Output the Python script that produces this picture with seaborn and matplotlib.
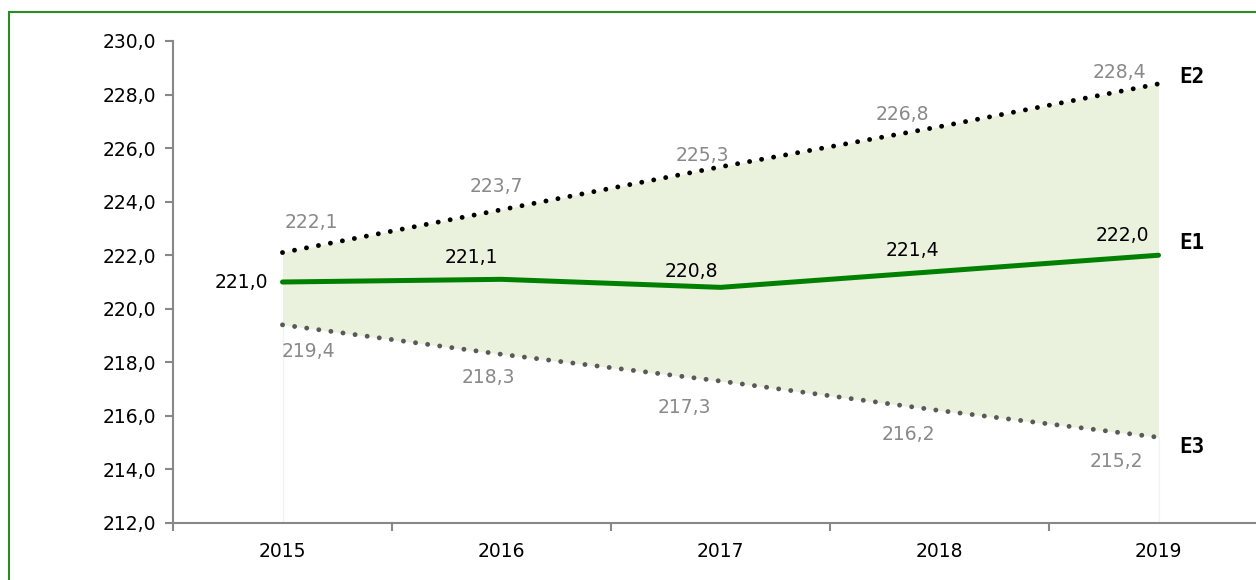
import matplotlib
matplotlib.use("Agg")
import matplotlib.pyplot as plt
import seaborn as sns
import pandas as pd
import numpy as np
from matplotlib.patches import Rectangle

years = ["2015", "2016", "2017", "2018", "2019"]
e1 = [221.0, 221.1, 220.8, 221.4, 222.0]
e2 = [222.1, 223.7, 225.3, 226.8, 228.4]
e3 = [219.4, 218.3, 217.3, 216.2, 215.2]
series_names = ["E1", "E2", "E3"]

sns.set_theme(style="white")
plt.rcParams["font.family"] = ["DejaVu Sans"]

fig = plt.figure(figsize=(12.56, 5.8), dpi=100)
ax = fig.add_axes([173 / 1256, 1 - 523 / 580, 1095 / 1256, 482 / 580])

x = np.arange(len(years))
df = pd.DataFrame({"x": np.tile(x, 3), "v": e1 + e2 + e3,
                   "s": np.repeat(series_names, len(years))})

ax.fill_between(x, e3, e2, color="#EAF1DD", lw=0, zorder=1)
for xi, lo in [(x[0], e3[0]), (x[-1], e3[-1])]:
    ax.plot([xi, xi], [212, lo], color="#F2F2F2", lw=1, zorder=1)

sns.lineplot(data=df[df.s == "E1"], x="x", y="v", ax=ax, color="#008000",
             lw=3.6, solid_capstyle="round", zorder=3)
sns.lineplot(data=df[df.s == "E2"], x="x", y="v", ax=ax, color="black",
             lw=3.5, linestyle=(0, (0.01, 2.5)), dash_capstyle="round", zorder=3)
sns.lineplot(data=df[df.s == "E3"], x="x", y="v", ax=ax, color="#595959",
             lw=3.5, linestyle=(0, (0.01, 2.5)), dash_capstyle="round", zorder=3)

ax.set_xlim(-0.5, 4.5)
ax.set_ylim(212, 230)
ax.set_yticks(np.arange(212, 231, 2))
ax.set_yticklabels([f"{v:.1f}".replace(".", ",") for v in np.arange(212, 231, 2)])
ax.set_xticks(x)
ax.set_xticklabels(years)
ax.set_xticks(np.arange(-0.5, 4.6, 1), minor=True)
ax.tick_params(axis="x", which="major", length=0, pad=14, labelsize=13.5, colors="black")
ax.tick_params(axis="x", which="minor", length=6, width=1.5, color="#888888", direction="out", bottom=True)
ax.tick_params(axis="y", length=6, width=1.5, color="#888888", direction="out", left=True,
               labelsize=13.5, labelcolor="black", pad=6)
ax.set_xlabel("")
ax.set_ylabel("")
for s in ["top", "right"]:
    ax.spines[s].set_visible(False)
for s in ["left", "bottom"]:
    ax.spines[s].set_color("#888888")
    ax.spines[s].set_linewidth(1.5)

fmt = lambda v: f"{v:.1f}".replace(".", ",")

# label offsets in pixels (layout, not data)
e1_off = [(-14, 0, "right", "center"), (-3, 22, "right", "center"), (-2, 16, "right", "center"),
          (0, 21, "right", "center"), (-9, 20, "right", "center")]
e2_off = [(2, 30, "left", "center"), (-5, 23, "center", "center"), (-18, 11, "center", "center"),
          (-37, 12, "center", "center"), (-39, 11, "center", "center")]
e3_off = [(-1, -27, "left", "center"), (-13, -23, "center", "center"), (-36, -26, "center", "center"),
          (-31, -24, "center", "center"), (-42, -24, "center", "center")]

for i in range(len(years)):
    dx, dy, ha, va = e1_off[i]
    ax.annotate(fmt(e1[i]), (x[i], e1[i]), xytext=(dx, dy), textcoords="offset pixels",
                ha=ha, va=va, fontsize=13.5, color="black", zorder=5)
    dx, dy, ha, va = e2_off[i]
    ax.annotate(fmt(e2[i]), (x[i], e2[i]), xytext=(dx, dy), textcoords="offset pixels",
                ha=ha, va=va, fontsize=13.5, color="#898989", zorder=5)
    dx, dy, ha, va = e3_off[i]
    ax.annotate(fmt(e3[i]), (x[i], e3[i]), xytext=(dx, dy), textcoords="offset pixels",
                ha=ha, va=va, fontsize=13.5, color="#898989", zorder=5)

for name, vals, dy in [("E1", e1, 12), ("E2", e2, 7), ("E3", e3, -10)]:
    ax.annotate(name, (x[-1], vals[-1]), xytext=(21, dy), textcoords="offset pixels",
                ha="left", va="center", fontsize=15, fontweight="bold",
                family=["DejaVu Sans Mono", "DejaVu Sans"], color="black", zorder=5)

fig.patches.append(Rectangle((9 / 1256, -0.1), 1.2, 1 - 12 / 580 + 0.1,
                             transform=fig.transFigure, fill=False,
                             edgecolor="#2E8B22", lw=1.5, zorder=0))

fig.savefig("out.png", dpi=100)
